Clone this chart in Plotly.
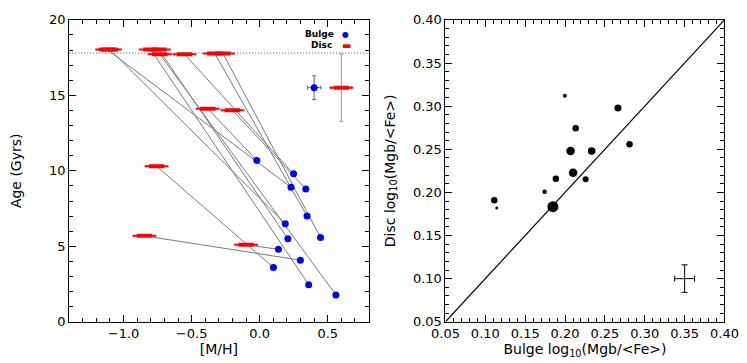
import plotly.graph_objects as go

# left panel: disc / bulge ages and metallicities, one entry per galaxy
disc_mh = [-1.12, -1.10, -0.80, -0.741, -0.734, -0.553, -0.33, -0.27, -0.381, -0.20, -0.758, -0.847, -0.10]
disc_age = [18.03, 18.03, 18.03, 18.03, 17.73, 17.73, 17.78, 17.78, 14.11, 14.01, 10.31, 5.69, 5.10]
bulge_mh = [0.230, 0.188, 0.360, 0.207, 0.560, 0.249, 0.348, 0.447, -0.021, 0.339, 0.101, 0.299, 0.138]
bulge_age = [8.91, 6.50, 2.46, 5.50, 1.78, 9.80, 7.00, 5.59, 10.69, 8.80, 3.60, 4.08, 4.80]

# typical errors (shown once, top right)
err_bulge = dict(x=0.40, y=15.51, ex=0.05, ey=0.79)
err_disc = dict(x=0.60, y=15.51, ex=0.074, ey=2.23)
age_limit = 17.8

# right panel: log10(Mgb/<Fe>) bulge vs disc, marker size per galaxy
bulge_mgfe = [0.1997, 0.2133, 0.2664, 0.2809, 0.2069, 0.2334, 0.2101, 0.1884, 0.2258, 0.1112, 0.1143, 0.1743, 0.1848]
disc_mgfe = [0.312, 0.2744, 0.2978, 0.2559, 0.248, 0.248, 0.2228, 0.2157, 0.2153, 0.1908, 0.1819, 0.2008, 0.1834]
point_size = [4, 6.5, 7, 6.5, 8.5, 7.5, 8.5, 6.5, 6, 6.5, 3, 4.5, 11]
err_mgfe = dict(x=0.35, y=0.10, ex=0.0125, ey=0.016)
one_to_one = [0.05, 0.40]

FONT = "DejaVu Sans"
disc_layers = [(17, 2), (11, 4)]  # stacked bars giving an ellipse-like marker

fig = go.Figure()

# connecting lines disc -> bulge
lx, ly = [], []
for dx, dy, bx, by in zip(disc_mh, disc_age, bulge_mh, bulge_age):
    lx += [dx, bx, None]
    ly += [dy, by, None]
fig.add_trace(go.Scatter(x=lx, y=ly, mode="lines", line=dict(color="#7a7a7a", width=1),
                         hoverinfo="skip", showlegend=False))

# age limit dotted line
fig.add_hline(y=age_limit, line=dict(color="#555555", width=1, dash="1px,2px"))

# discs
for size, width in disc_layers:
    fig.add_trace(go.Scatter(x=disc_mh, y=disc_age, mode="markers",
                             marker=dict(symbol="line-ew", size=size, color="red",
                                         line=dict(color="red", width=width)),
                             showlegend=False))
fig.add_trace(go.Scatter(x=bulge_mh, y=bulge_age, mode="markers",
                         marker=dict(symbol="circle", size=7, color="blue"), showlegend=False))

# error samples
fig.add_trace(go.Scatter(x=[err_bulge["x"]], y=[err_bulge["y"]], mode="markers",
                         marker=dict(size=7, color="blue"),
                         error_x=dict(type="constant", value=err_bulge["ex"], color="#666666", thickness=1, width=2),
                         error_y=dict(type="constant", value=err_bulge["ey"], color="#666666", thickness=1, width=2),
                         showlegend=False))
for i, (size, width) in enumerate(disc_layers):
    eb = dict(type="constant", color="#999999", thickness=1, width=2, visible=(i == 0))
    fig.add_trace(go.Scatter(x=[err_disc["x"]], y=[err_disc["y"]], mode="markers",
                             marker=dict(symbol="line-ew", size=size, color="red",
                                         line=dict(color="red", width=width)),
                             error_x=dict(eb, value=err_disc["ex"]),
                             error_y=dict(eb, value=err_disc["ey"]),
                             showlegend=False))

# right panel
fig.add_trace(go.Scatter(x=one_to_one, y=one_to_one, mode="lines", line=dict(color="black", width=1.2),
                         xaxis="x2", yaxis="y2", showlegend=False))
fig.add_trace(go.Scatter(x=bulge_mgfe, y=disc_mgfe, mode="markers",
                         marker=dict(size=point_size, color="black", opacity=1, line=dict(width=0)),
                         xaxis="x2", yaxis="y2", showlegend=False))
fig.add_trace(go.Scatter(x=[err_mgfe["x"]], y=[err_mgfe["y"]], mode="markers",
                         marker=dict(size=1, color="black"),
                         error_x=dict(type="constant", value=err_mgfe["ex"], color="black", thickness=1, width=3),
                         error_y=dict(type="constant", value=err_mgfe["ey"], color="black", thickness=1, width=3),
                         xaxis="x2", yaxis="y2", showlegend=False))

axis_common = dict(showline=True, linecolor="black", linewidth=1, mirror="allticks",
                   ticks="inside", ticklen=7, tickcolor="black", showgrid=False, zeroline=False,
                   ticklabeloverflow="allow",
                   tickfont=dict(family=FONT, size=13, color="black"))
title_font = dict(family=FONT, size=14, color="black")


def minor(step):
    return dict(ticks="inside", ticklen=4, tickcolor="black", showgrid=False, dtick=step)


fig.update_layout(
    width=747, height=363,
    margin=dict(l=0, r=0, t=0, b=0),
    plot_bgcolor="white", paper_bgcolor="white",
    font=dict(family=FONT, size=13, color="black"),
    xaxis=dict(domain=[0.0656, 0.482], range=[-1.4, 0.8], dtick=0.5, tick0=0, tickformat=".1f",
               title=dict(text="[M/H]", standoff=1, font=title_font), minor=minor(0.1), **axis_common),
    yaxis=dict(domain=[0.1185, 0.986], range=[0, 20], dtick=5, tick0=0,
               title=dict(text="Age (Gyrs)", standoff=25, font=title_font), minor=minor(1), **axis_common),
    xaxis2=dict(domain=[0.589, 0.977], range=[0.05, 0.40], dtick=0.05, tick0=0.05, tickformat=".2f",
                anchor="y2",
                title=dict(text="Bulge log<sub>10</sub>(Mgb/&lt;Fe&gt;)", standoff=1, font=title_font),
                minor=minor(0.01), **axis_common),
    yaxis2=dict(domain=[0.1185, 0.986], range=[0.05, 0.40], dtick=0.05, tick0=0.05, tickformat=".2f",
                anchor="x2",
                title=dict(text="Disc log<sub>10</sub>(Mgb/&lt;Fe&gt;)", standoff=14, font=title_font),
                minor=minor(0.01), **axis_common),
    annotations=[
        dict(text="<b>Bulge</b>", xref="paper", yref="paper", x=326 / 747, y=1 - 20 / 363,
             xanchor="right", yanchor="middle", showarrow=False, font=dict(size=9)),
        dict(text="<span style='color:blue'>●</span>", xref="paper", yref="paper", x=336 / 747, y=1 - 20 / 363,
             xanchor="center", yanchor="middle", showarrow=False, font=dict(size=8)),
        dict(text="<b>Disc</b>", xref="paper", yref="paper", x=324 / 747, y=1 - 31.5 / 363,
             xanchor="right", yanchor="middle", showarrow=False, font=dict(size=9)),
        dict(text="<span style='color:red'>▬</span>", xref="paper", yref="paper", x=337 / 747, y=1 - 31.5 / 363,
             xanchor="center", yanchor="middle", showarrow=False, font=dict(size=10)),
    ],
)

fig.write_html("out.html")
